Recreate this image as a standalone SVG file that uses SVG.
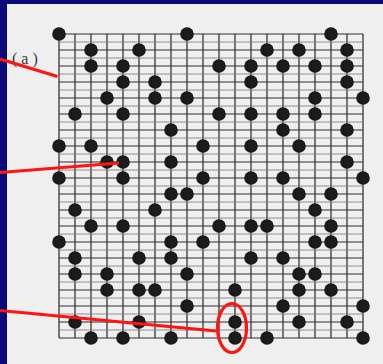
<svg xmlns="http://www.w3.org/2000/svg" width="383" height="364" viewBox="0 0 383 364">
<style>
.paper{fill:#efefef}
.vl{stroke:#262626;stroke-width:1.2;fill:none}
.hl{stroke:#7a7a7a;stroke-width:0.8;fill:none}
.hm{stroke:#2e2e2e;stroke-width:1.1;fill:none}
.st{fill:#1b1b1b}
.red{stroke:#ff1414;stroke-width:3.2;fill:none;stroke-linecap:butt}
.lbl{font-family:"Liberation Serif","DejaVu Serif",serif;font-size:16px;fill:#3a3a3a}
</style>
<rect width="383" height="364" fill="#0a0a78"/>
<rect class="paper" x="7" y="4" width="376" height="360"/>
<g id="board">
<path class="vl" d="M59,34V338M75,34V338M91,34V338M107,34V338M123,34V338M139,34V338M155,34V338M171,34V338M187,34V338M203,34V338M219,34V338M235,34V338M251,34V338M267,34V338M283,34V338M299,34V338M315,34V338M331,34V338M347,34V338M363,34V338"/>
<path class="hl" d="M59,42H363M59,58H363M59,74H363M59,90H363M59,106H363M59,122H363M59,138H363M59,154H363M59,170H363M59,186H363M59,202H363M59,218H363M59,234H363M59,250H363M59,266H363M59,282H363M59,298H363M59,314H363M59,330H363"/>
<path class="hm" d="M59,34H363M59,50H363M59,66H363M59,82H363M59,98H363M59,114H363M59,130H363M59,146H363M59,162H363M59,178H363M59,194H363M59,210H363M59,226H363M59,242H363M59,258H363M59,274H363M59,290H363M59,306H363M59,322H363M59,338H363"/>
</g>
<g id="stones">
<circle class="st" cx="59" cy="34" r="6.8"/><circle class="st" cx="187" cy="34" r="6.8"/><circle class="st" cx="331" cy="34" r="6.8"/>
<circle class="st" cx="91" cy="50" r="6.8"/><circle class="st" cx="139" cy="50" r="6.8"/><circle class="st" cx="267" cy="50" r="6.8"/><circle class="st" cx="299" cy="50" r="6.8"/><circle class="st" cx="347" cy="50" r="6.8"/>
<circle class="st" cx="91" cy="66" r="6.8"/><circle class="st" cx="123" cy="66" r="6.8"/><circle class="st" cx="219" cy="66" r="6.8"/><circle class="st" cx="251" cy="66" r="6.8"/><circle class="st" cx="283" cy="66" r="6.8"/><circle class="st" cx="315" cy="66" r="6.8"/><circle class="st" cx="347" cy="66" r="6.8"/>
<circle class="st" cx="123" cy="82" r="6.8"/><circle class="st" cx="155" cy="82" r="6.8"/><circle class="st" cx="251" cy="82" r="6.8"/><circle class="st" cx="347" cy="82" r="6.8"/>
<circle class="st" cx="107" cy="98" r="6.8"/><circle class="st" cx="155" cy="98" r="6.8"/><circle class="st" cx="187" cy="98" r="6.8"/><circle class="st" cx="315" cy="98" r="6.8"/><circle class="st" cx="363" cy="98" r="6.8"/>
<circle class="st" cx="75" cy="114" r="6.8"/><circle class="st" cx="123" cy="114" r="6.8"/><circle class="st" cx="219" cy="114" r="6.8"/><circle class="st" cx="251" cy="114" r="6.8"/><circle class="st" cx="283" cy="114" r="6.8"/><circle class="st" cx="315" cy="114" r="6.8"/>
<circle class="st" cx="171" cy="130" r="6.8"/><circle class="st" cx="283" cy="130" r="6.8"/><circle class="st" cx="347" cy="130" r="6.8"/>
<circle class="st" cx="59" cy="146" r="6.8"/><circle class="st" cx="91" cy="146" r="6.8"/><circle class="st" cx="203" cy="146" r="6.8"/><circle class="st" cx="251" cy="146" r="6.8"/><circle class="st" cx="299" cy="146" r="6.8"/>
<circle class="st" cx="107" cy="162" r="6.8"/><circle class="st" cx="123" cy="162" r="6.8"/><circle class="st" cx="171" cy="162" r="6.8"/><circle class="st" cx="347" cy="162" r="6.8"/>
<circle class="st" cx="59" cy="178" r="6.8"/><circle class="st" cx="123" cy="178" r="6.8"/><circle class="st" cx="203" cy="178" r="6.8"/><circle class="st" cx="251" cy="178" r="6.8"/><circle class="st" cx="283" cy="178" r="6.8"/><circle class="st" cx="363" cy="178" r="6.8"/>
<circle class="st" cx="171" cy="194" r="6.8"/><circle class="st" cx="187" cy="194" r="6.8"/><circle class="st" cx="299" cy="194" r="6.8"/><circle class="st" cx="331" cy="194" r="6.8"/>
<circle class="st" cx="75" cy="210" r="6.8"/><circle class="st" cx="155" cy="210" r="6.8"/><circle class="st" cx="315" cy="210" r="6.8"/>
<circle class="st" cx="91" cy="226" r="6.8"/><circle class="st" cx="123" cy="226" r="6.8"/><circle class="st" cx="219" cy="226" r="6.8"/><circle class="st" cx="251" cy="226" r="6.8"/><circle class="st" cx="267" cy="226" r="6.8"/><circle class="st" cx="331" cy="226" r="6.8"/>
<circle class="st" cx="59" cy="242" r="6.8"/><circle class="st" cx="171" cy="242" r="6.8"/><circle class="st" cx="203" cy="242" r="6.8"/><circle class="st" cx="315" cy="242" r="6.8"/><circle class="st" cx="331" cy="242" r="6.8"/>
<circle class="st" cx="75" cy="258" r="6.8"/><circle class="st" cx="139" cy="258" r="6.8"/><circle class="st" cx="171" cy="258" r="6.8"/><circle class="st" cx="251" cy="258" r="6.8"/><circle class="st" cx="283" cy="258" r="6.8"/>
<circle class="st" cx="75" cy="274" r="6.8"/><circle class="st" cx="107" cy="274" r="6.8"/><circle class="st" cx="187" cy="274" r="6.8"/><circle class="st" cx="299" cy="274" r="6.8"/><circle class="st" cx="315" cy="274" r="6.8"/>
<circle class="st" cx="107" cy="290" r="6.8"/><circle class="st" cx="139" cy="290" r="6.8"/><circle class="st" cx="155" cy="290" r="6.8"/><circle class="st" cx="235" cy="290" r="6.8"/><circle class="st" cx="299" cy="290" r="6.8"/><circle class="st" cx="331" cy="290" r="6.8"/>
<circle class="st" cx="187" cy="306" r="6.8"/><circle class="st" cx="283" cy="306" r="6.8"/><circle class="st" cx="363" cy="306" r="6.8"/>
<circle class="st" cx="75" cy="322" r="6.8"/><circle class="st" cx="139" cy="322" r="6.8"/><circle class="st" cx="235" cy="322" r="6.8"/><circle class="st" cx="299" cy="322" r="6.8"/><circle class="st" cx="347" cy="322" r="6.8"/>
<circle class="st" cx="91" cy="338" r="6.8"/><circle class="st" cx="123" cy="338" r="6.8"/><circle class="st" cx="171" cy="338" r="6.8"/><circle class="st" cx="235" cy="338" r="6.8"/><circle class="st" cx="267" cy="338" r="6.8"/><circle class="st" cx="363" cy="338" r="6.8"/>
</g>
<g id="label-a"><text class="lbl" x="12" y="64" letter-spacing="4">(a)</text></g>
<g id="highlight"><ellipse class="red" cx="232" cy="328" rx="14.5" ry="24.5" stroke-width="3.6"/></g>
<g id="connectors">
<line class="red" x1="0" y1="59" x2="57.5" y2="76.5"/>
<line class="red" x1="0" y1="172.5" x2="119" y2="163"/>
<line class="red" x1="0" y1="310.5" x2="216" y2="331"/>
</g>
</svg>
